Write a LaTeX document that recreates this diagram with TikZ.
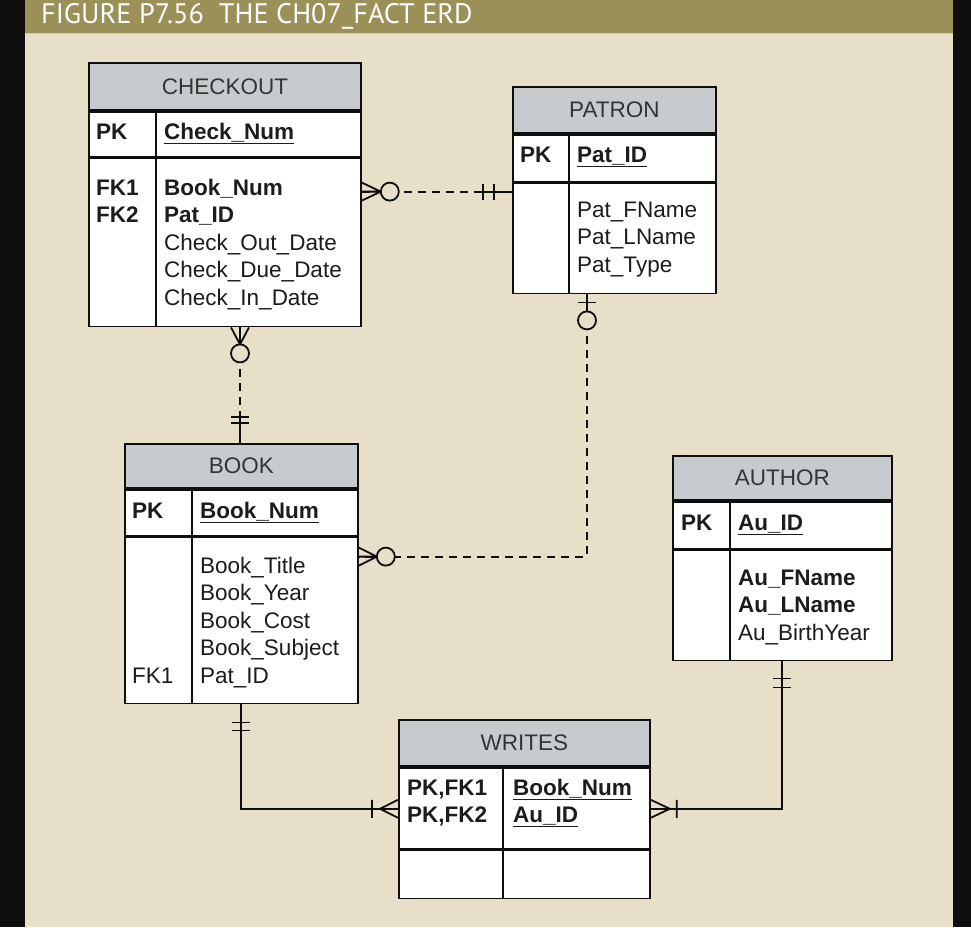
\documentclass[tikz,border=0pt]{standalone}
\usepackage{fontspec}
\setmainfont{Liberation Sans}
\newfontfamily\titlefont{PT Sans}
\usetikzlibrary{positioning, calc}

\definecolor{frame}{RGB}{14,14,14}
\definecolor{panel}{RGB}{232,223,200}
\definecolor{bar}{RGB}{155,145,88}
\definecolor{barline}{RGB}{214,204,168}
\definecolor{hdr}{RGB}{200,203,205}
\definecolor{ink}{RGB}{28,28,28}
\definecolor{hdrink}{RGB}{52,52,52}

\tikzset{
  ttl/.style={draw=frame, fill=hdr, line width=1.8pt, text=hdrink, anchor=north west, inner sep=0pt, font=\fontsize{22.5}{27.5}\selectfont},
  cell/.style={draw=frame, fill=white, line width=1.8pt, inner sep=0pt},
  txt/.style={anchor=base west, inner sep=0pt, align=left, text=ink, font=\fontsize{22.5}{27.5}\selectfont},
  rel/.style={draw=frame, line width=1.8pt},
  opt/.style={dash pattern=on 8pt off 6pt},
}

\begin{document}
\begin{tikzpicture}[x=1pt, y=-1pt]
    \useasboundingbox (0,0) rectangle (971,927);
    % Background
    \fill[frame] (0,0) rectangle (971,927);
    \fill[panel] (25,0) rectangle (953,927);
    \fill[bar] (25,0) rectangle (953,33);
    \draw[barline, line width=1pt] (25,33.5) -- (953,33.5);
    \node[anchor=base west, inner sep=0pt, text=white, font=\titlefont\fontsize{28.2}{32}\selectfont] (Title) at (41,23) {FIGURE P7.56~~THE CH07\_FACT ERD};

    % Nodes (multi-line texts sit on their last baseline)
    \node[ttl, minimum width=272pt, minimum height=47pt] (Checkout) at (88,62) {CHECKOUT};
    \node[cell, minimum width=272pt, minimum height=45pt, below=0pt of Checkout] (CheckoutKey) {};
    \node[cell, minimum width=272pt, minimum height=168pt, below=0pt of CheckoutKey] (CheckoutAttr) {};
    \draw[rel] ([xshift=68pt]CheckoutKey.north west) -- ([xshift=68pt]CheckoutAttr.south west);
    \node[txt] (CheckoutPK) at (96,139) {\textbf{PK}};
    \node[txt] (CheckoutNum) at (164,139) {\textbf{\underline{Check\_Num}}};
    \node[txt] (CheckoutFK) at (96,222.5) {\textbf{FK1}\\\textbf{FK2}};
    \node[txt] (CheckoutCols) at (164,305) {\textbf{Book\_Num}\\\textbf{Pat\_ID}\\Check\_Out\_Date\\Check\_Due\_Date\\Check\_In\_Date};

    \node[ttl, minimum width=203pt, minimum height=46pt] (Patron) at (512,86) {PATRON};
    \node[cell, minimum width=203pt, minimum height=47pt, below=0pt of Patron] (PatronKey) {};
    \node[cell, minimum width=203pt, minimum height=110pt, below=0pt of PatronKey] (PatronAttr) {};
    \draw[rel] ([xshift=57pt]PatronKey.north west) -- ([xshift=57pt]PatronAttr.south west);
    \node[txt] (PatronPK) at (520,162) {\textbf{PK}};
    \node[txt] (PatronID) at (577,162) {\textbf{\underline{Pat\_ID}}};
    \node[txt] (PatronCols) at (577,272) {Pat\_FName\\Pat\_LName\\Pat\_Type};

    \node[ttl, minimum width=233pt, minimum height=44pt] (Book) at (124,443) {BOOK};
    \node[cell, minimum width=233pt, minimum height=46pt, below=0pt of Book] (BookKey) {};
    \node[cell, minimum width=233pt, minimum height=166pt, below=0pt of BookKey] (BookAttr) {};
    \draw[rel] ([xshift=68pt]BookKey.north west) -- ([xshift=68pt]BookAttr.south west);
    \node[txt] (BookPK) at (132,518) {\textbf{PK}};
    \node[txt] (BookNum) at (200,518) {\textbf{\underline{Book\_Num}}};
    \node[txt] (BookFK) at (132,683) {FK1};
    \node[txt] (BookCols) at (200,683) {Book\_Title\\Book\_Year\\Book\_Cost\\Book\_Subject\\Pat\_ID};

    \node[ttl, minimum width=219pt, minimum height=44pt] (Author) at (672,455) {AUTHOR};
    \node[cell, minimum width=219pt, minimum height=47pt, below=0pt of Author] (AuthorKey) {};
    \node[cell, minimum width=219pt, minimum height=110pt, below=0pt of AuthorKey] (AuthorAttr) {};
    \draw[rel] ([xshift=58pt]AuthorKey.north west) -- ([xshift=58pt]AuthorAttr.south west);
    \node[txt] (AuthorPK) at (681,530) {\textbf{PK}};
    \node[txt] (AuthorID) at (738,530) {\textbf{\underline{Au\_ID}}};
    \node[txt] (AuthorCols) at (738,640) {\textbf{Au\_FName}\\\textbf{Au\_LName}\\Au\_BirthYear};

    \node[ttl, minimum width=251pt, minimum height=46pt] (Writes) at (398,719) {WRITES};
    \node[cell, minimum width=251pt, minimum height=81pt, below=0pt of Writes] (WritesKey) {};
    \node[cell, minimum width=251pt, minimum height=48pt, below=0pt of WritesKey] (WritesRest) {};
    \draw[rel] ([xshift=105pt]WritesKey.north west) -- ([xshift=105pt]WritesRest.south west);
    \node[txt] (WritesPK) at (407,822.5) {\textbf{PK,FK1}\\\textbf{PK,FK2}};
    \node[txt] (WritesCols) at (513,822.5) {\textbf{\underline{Book\_Num}}\\\textbf{\underline{Au\_ID}}};

    % Edges
    \coordinate (c1) at ([yshift=-34pt]CheckoutAttr.north east);
    \coordinate (p1) at ([yshift=-9pt]PatronAttr.north west);
    \draw[rel, opt] (c1) -- (p1);
    \draw[rel] (c1) ++(19,0) -- ++(-19,-9) (c1) ++(19,0) -- ++(-19,9) (c1) -- ++(19,0);
    \draw[rel, fill=panel] ([xshift=28pt]c1) circle (9pt);
    \draw[rel] ([xshift=-29pt]p1) -- (p1) ([xshift=-29pt]p1) ++(0,-8) -- ++(0,16) ([xshift=-18pt]p1) ++(0,-8) -- ++(0,16);

    \coordinate (c2) at ([xshift=152pt]CheckoutAttr.south west);
    \coordinate (b2) at ([xshift=116pt]Book.north west);
    \draw[rel, opt] (c2) -- (b2);
    \draw[rel] (c2) ++(0,17) -- ++(-9,-17) (c2) ++(0,17) -- ++(9,-17) (c2) -- ++(0,17);
    \draw[rel, fill=panel] ([yshift=-26pt]c2) circle (9pt);
    \draw[rel] ([yshift=26pt]b2) -- (b2) ([yshift=26pt]b2) ++(-9,0) -- ++(18,0) ([yshift=20pt]b2) ++(-9,0) -- ++(18,0);

    \coordinate (p3) at ([xshift=75pt]PatronAttr.south west);
    \coordinate (b3) at ([yshift=-20pt]BookAttr.north east);
    \draw[rel, opt] (p3) |- (b3);
    \draw[rel] (p3) -- ++(0,17) (p3) ++(-9,8) -- ++(18,0);
    \draw[rel, fill=panel] ([yshift=-26pt]p3) circle (9pt);
    \draw[rel] (b3) ++(18,0) -- ++(-18,-9) (b3) ++(18,0) -- ++(-18,9) (b3) -- ++(18,0);
    \draw[rel, fill=panel] ([xshift=27pt]b3) circle (9pt);

    \coordinate (b4) at ([xshift=117pt]BookAttr.south west);
    \coordinate (w4) at ([yshift=-42pt]WritesKey.north west);
    \draw[rel] (b4) |- (w4);
    \draw[rel] (b4) ++(-9,18) -- ++(18,0) (b4) ++(-9,26) -- ++(18,0);
    \draw[rel] (w4) ++(-18,0) -- ++(18,-9) (w4) ++(-18,0) -- ++(18,9) (w4) ++(-26,-9) -- ++(0,18);

    \coordinate (a5) at ([xshift=110pt]AuthorAttr.south west);
    \coordinate (w5) at ([yshift=-42pt]WritesKey.north east);
    \draw[rel] (a5) |- (w5);
    \draw[rel] (a5) ++(-9,17) -- ++(18,0) (a5) ++(-9,26) -- ++(18,0);
    \draw[rel] (w5) ++(19,0) -- ++(-19,-9) (w5) ++(19,0) -- ++(-19,9) (w5) ++(26,-9) -- ++(0,18);
\end{tikzpicture}
\end{document}
